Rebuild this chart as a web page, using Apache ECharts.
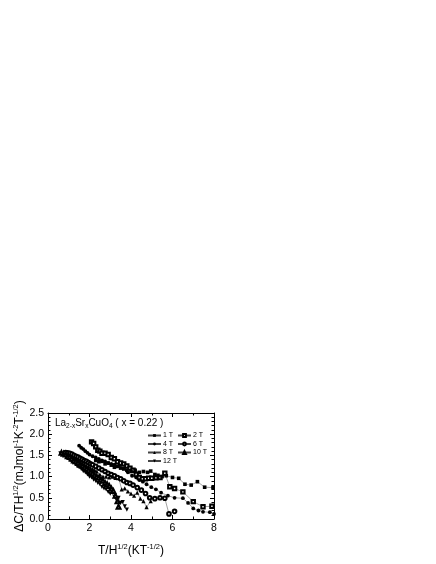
<!DOCTYPE html>
<html><head><meta charset="utf-8">
<script src="https://cdn.jsdelivr.net/npm/echarts@6/dist/echarts.min.js"></script>
<style>html,body{margin:0;padding:0;background:#fff}#c{width:436px;height:564px}</style>
</head><body><div id="c"></div>
<script>
var seriesNames = ['1 T','2 T','4 T','6 T','8 T','10 T','12 T'];
var xTicks = [0,2,4,6,8];
var yTicks = ['0.0','0.5','1.0','1.5','2.0','2.5'];

var d1T = [[2.3,1.38],[2.45,1.35],[2.6,1.36],[2.75,1.3],[2.9,1.32],[3.05,1.27],[3.2,1.22],[3.35,1.24],[3.5,1.2],[3.65,1.18],[3.8,1.15],[4.0,1.12],[4.2,1.15],[4.4,1.1],[4.6,1.12],[4.8,1.1],[4.95,1.13],[5.15,1.05],[5.3,1.03],[5.5,1.0],[5.7,1.02],[6.0,0.98],[6.3,0.96],[6.6,0.82],[6.9,0.8],[7.2,0.88],[7.55,0.75],[7.95,0.74]];
var d2T = [[2.1,1.82],[2.2,1.78],[2.3,1.7],[2.4,1.62],[2.5,1.6],[2.6,1.55],[2.75,1.55],[2.9,1.52],[3.05,1.45],[3.2,1.42],[3.35,1.35],[3.5,1.32],[3.65,1.3],[3.8,1.25],[3.95,1.2],[4.1,1.15],[4.25,1.05],[4.4,0.98],[4.55,0.95],[4.7,0.95],[4.85,0.96],[5.0,0.96],[5.2,0.97],[5.4,0.98],[5.63,1.08],[5.87,0.76],[6.1,0.72],[6.5,0.64],[7.0,0.41],[7.47,0.29],[7.9,0.3]];
var d4T = [[1.5,1.73],[1.6,1.68],[1.7,1.65],[1.8,1.6],[1.9,1.56],[2.0,1.52],[2.15,1.48],[2.3,1.45],[2.45,1.42],[2.6,1.38],[2.75,1.36],[2.9,1.32],[3.05,1.3],[3.2,1.28],[3.45,1.27],[3.65,1.2],[3.85,1.1],[4.05,1.02],[4.25,0.98],[4.4,0.92],[4.57,0.88],[4.75,0.82],[4.98,0.75],[5.2,0.7],[5.45,0.62],[5.78,0.55],[6.1,0.5],[6.5,0.49],[6.75,0.38],[7.0,0.25],[7.25,0.2],[7.47,0.17],[7.8,0.16],[8.0,0.12]];
var d6T = [[0.85,1.57],[0.95,1.56],[1.05,1.55],[1.15,1.53],[1.25,1.5],[1.35,1.48],[1.45,1.46],[1.55,1.43],[1.65,1.41],[1.75,1.38],[1.85,1.36],[1.95,1.33],[2.05,1.3],[2.15,1.28],[2.3,1.24],[2.45,1.2],[2.6,1.16],[2.75,1.12],[2.9,1.08],[3.05,1.05],[3.2,1.02],[3.35,0.98],[3.5,0.95],[3.65,0.9],[3.8,0.86],[3.95,0.84],[4.1,0.8],[4.3,0.74],[4.5,0.68],[4.7,0.6],[4.9,0.5],[5.15,0.48],[5.4,0.5],[5.63,0.49],[5.83,0.12],[6.1,0.18]];
var d8T = [[0.75,1.56],[0.85,1.55],[0.95,1.52],[1.05,1.5],[1.15,1.47],[1.25,1.45],[1.35,1.42],[1.45,1.38],[1.55,1.36],[1.65,1.32],[1.75,1.3],[1.85,1.26],[1.95,1.24],[2.05,1.2],[2.15,1.18],[2.25,1.15],[2.35,1.12],[2.5,1.05],[2.65,1.0],[2.8,1.0],[2.95,0.98],[3.1,1.0],[3.25,0.97],[3.4,0.98],[3.55,0.7],[3.7,0.72],[3.85,0.65],[4.0,0.6],[4.15,0.55],[4.3,0.62],[4.45,0.48],[4.6,0.42],[4.75,0.28],[4.95,0.42]];
var d10T = [[0.65,1.56],[0.75,1.54],[0.85,1.52],[0.95,1.48],[1.05,1.46],[1.15,1.42],[1.25,1.38],[1.35,1.36],[1.45,1.32],[1.55,1.28],[1.65,1.26],[1.75,1.22],[1.85,1.18],[1.95,1.15],[2.05,1.1],[2.15,1.08],[2.25,1.03],[2.35,1.0],[2.45,0.97],[2.55,0.93],[2.65,0.9],[2.75,0.85],[2.85,0.82],[2.95,0.78],[3.05,0.72],[3.15,0.66],[3.25,0.55],[3.35,0.42],[3.4,0.29]];
var d12T = [[0.6,1.55],[0.7,1.52],[0.8,1.5],[0.9,1.45],[1.0,1.42],[1.1,1.38],[1.2,1.33],[1.3,1.3],[1.4,1.25],[1.5,1.22],[1.6,1.18],[1.7,1.13],[1.8,1.1],[1.9,1.05],[2.0,1.0],[2.1,0.98],[2.2,0.93],[2.3,0.9],[2.4,0.85],[2.5,0.82],[2.6,0.76],[2.7,0.72],[2.8,0.7],[2.9,0.64],[3.0,0.6],[3.1,0.62],[3.2,0.52],[3.3,0.45],[3.4,0.5],[3.5,0.38],[3.6,0.4],[3.7,0.3],[3.8,0.22]];

var dataList = [d1T,d2T,d4T,d6T,d8T,d10T,d12T];
var downTri = 'path://M0,0 L10,0 L5,9 Z';
var symbols = ['rect','emptyRect','circle','emptyCircle','triangle','emptyTriangle',downTri];
var sizes = [3.6,3.4,3.8,3.6,4.2,4,4.2];

var chart = echarts.init(document.getElementById('c'));
var FF = '"Liberation Sans", Arial, sans-serif';
var series = seriesNames.map(function(n,i){
  var empty = symbols[i].indexOf('empty')===0;
  return {name:n,type:'line',data:dataList[i],symbol:symbols[i],symbolSize:sizes[i],
    showAllSymbol:true,
    itemStyle:{color:'#000',borderColor:'#000',borderWidth:empty?0.5:0},
    lineStyle:{color:'#444',width:0.5},emphasis:{disabled:true},animation:false,z:10-i};
});
var legendBase = {orient:'vertical',itemWidth:13,itemHeight:3.5,itemGap:1.5,
  textStyle:{fontSize:7,fontFamily:FF,color:'#000',lineHeight:6.5,padding:[0,0,0,-3]},selectedMode:false};
var opt = {
  animation:false,
  grid:{left:48,right:222,top:413,bottom:45},
  legend:[
    Object.assign({},legendBase,{left:142,top:427,data:['1 T','4 T','8 T','12 T']}),
    Object.assign({},legendBase,{left:172,top:427,data:['2 T','6 T','10 T']})
  ],
  xAxis:[{type:'value',min:0,max:8,interval:2,position:'bottom',
    axisLine:{onZero:false,lineStyle:{color:'#000',width:1}},
    axisTick:{inside:true,length:4,lineStyle:{color:'#000'}},
    minorTick:{show:true,splitNumber:2,length:2.5,lineStyle:{color:'#000'}},
    splitLine:{show:false},
    axisLabel:{fontSize:10.5,color:'#000',fontFamily:FF,margin:4,formatter:function(v){return xTicks.indexOf(v)>=0?String(v):'';}},
    name:'{m|T/H}{s|1/2}{m|(KT}{s|-1/2}{m|)}',nameLocation:'middle',nameGap:24,
    nameTextStyle:{rich:{m:{fontSize:12,fontFamily:FF,color:'#000',lineHeight:14,verticalAlign:'bottom'},s:{fontSize:7.5,fontFamily:FF,color:'#000',lineHeight:14,verticalAlign:'top'}}}
  },{type:'value',min:0,max:8,interval:2,position:'top',
    axisLine:{onZero:false,lineStyle:{color:'#000',width:1}},
    axisTick:{inside:true,length:4,lineStyle:{color:'#000'}},
    minorTick:{show:true,splitNumber:2,length:2.5,lineStyle:{color:'#000'}},
    splitLine:{show:false},axisLabel:{show:false}}],
  yAxis:[{type:'value',min:0,max:2.5,interval:0.5,position:'left',
    axisLine:{onZero:false,lineStyle:{color:'#000',width:1}},
    axisTick:{inside:true,length:4,lineStyle:{color:'#000'}},
    minorTick:{show:true,splitNumber:5,length:2.5,lineStyle:{color:'#000'}},
    splitLine:{show:false},
    axisLabel:{fontSize:10.5,color:'#000',fontFamily:FF,margin:4,formatter:function(v){var i=Math.round(v/0.5);return yTicks[i]||'';}},
    name:'{m|ΔC/TH}{s|1/2}{m|(mJmol}{s|-1}{m|K}{s|-2}{m|T}{s|-1/2}{m|)}',nameLocation:'middle',nameGap:22,
    nameTextStyle:{rich:{m:{fontSize:12,fontFamily:FF,color:'#000',lineHeight:14,verticalAlign:'bottom'},s:{fontSize:7.5,fontFamily:FF,color:'#000',lineHeight:14,verticalAlign:'top'}}}
  },{type:'value',min:0,max:2.5,interval:0.5,position:'right',
    axisLine:{onZero:false,lineStyle:{color:'#000',width:1}},
    axisTick:{inside:true,length:4,lineStyle:{color:'#000'}},
    minorTick:{show:true,splitNumber:5,length:2.5,lineStyle:{color:'#000'}},
    splitLine:{show:false},axisLabel:{show:false}}],
  graphic:[{type:'text',left:55,top:418,z:20,style:{
    text:'{m|La}{s|2-x}{m|Sr}{s|x}{m|CuO}{s|4}{m| ( x = 0.22 )}',
    rich:{m:{fontSize:10,fontFamily:FF,fill:'#000',lineHeight:12,verticalAlign:'top'},s:{fontSize:6.5,fontFamily:FF,fill:'#000',lineHeight:12,verticalAlign:'bottom'}}}}],
  series:series
};
chart.setOption(opt);
</script></body></html>
